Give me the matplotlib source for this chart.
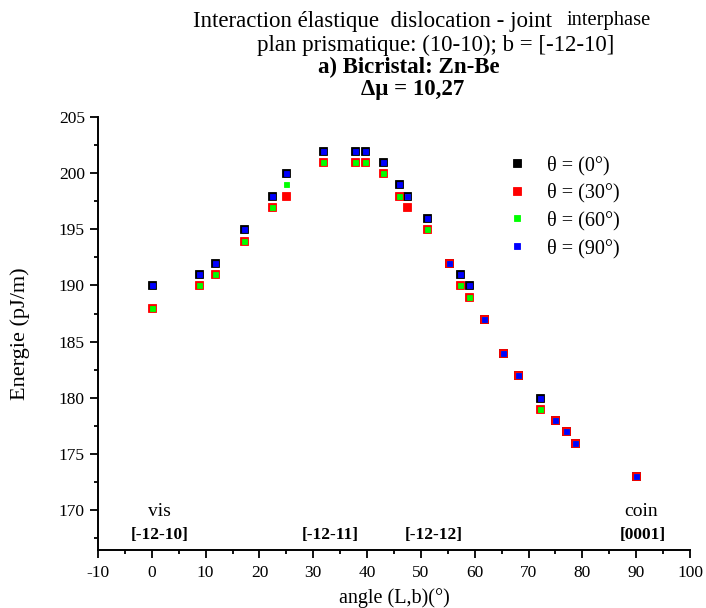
import matplotlib
matplotlib.use("Agg")
import matplotlib.pyplot as plt
from matplotlib.lines import Line2D
from matplotlib.ticker import MultipleLocator

plt.rcParams['font.family'] = ['Liberation Serif', 'DejaVu Serif']
plt.rcParams['axes.unicode_minus'] = False

# Angle (L,b) in degrees
angle = [0, 8.8, 11.7, 17.1, 22.4, 25.0, 31.8, 37.7, 39.6, 42.9, 45.9, 47.4,
         51.1, 55.3, 57.2, 58.9, 61.7, 65.2, 68.0, 72.1, 75.0, 77.0, 78.6, 90]

# Interaction energy (pJ/m) for each theta
e_theta0 = [190, 191, 192, 195, 198, 200, 202, 202, 202, 201, 199, 198,
            196, 192, 191, 190, 187, 184, 182, 180, 178, 177, 176, 173]
e_theta30 = [188, 190, 191, 194, 197, 198, 201, 201, 201, 200, 198, 197,
             195, 192, 190, 189, 187, 184, 182, 179, 178, 177, 176, 173]
e_theta60 = [188, 190, 191, 194, 197, 199, 201, 201, 201, 200, 198, 198,
             195, 192, 190, 189, 187, 184, 182, 179, 178, 177, 176, 173]
e_theta90 = [190, 191, 192, 195, 198, 200, 202, 202, 202, 201, 199, 198,
             196, 192, 191, 190, 187, 184, 182, 180, 178, 177, 176, 173]

series_labels = ['θ = (0°)', 'θ = (30°)', 'θ = (60°)', 'θ = (90°)']

# Crystallographic direction annotations
dir_x = [1.5, 33.2, 52.4, 91.3]
dir_labels = ['[-12-10]', '[-12-11]', '[-12-12]', '[0001]']
orient_x = [1.5, 91.0]
orient_labels = ['vis', 'coin']

fig = plt.figure(figsize=(7.06, 6.08), dpi=100)
ax = fig.add_axes([0.1388, 0.0954, 0.8385, 0.7122])

styles = [
    dict(color='black', ms=6.0),
    dict(color='#ff0000', ms=6.0),
    dict(color='#00ff00', ms=3.6),
    dict(color='#0000ff', ms=3.6),
]
for vals, st, lab in zip([e_theta0, e_theta30, e_theta60, e_theta90], styles, series_labels):
    ax.plot(angle, vals, linestyle='none', marker='s', ms=st['ms'],
            mfc=st['color'], mec=st['color'], mew=0.6, label=lab)

ax.set_xlim(-10, 100)
ax.set_ylim(166.45, 205)
ax.xaxis.set_major_locator(MultipleLocator(10))
ax.xaxis.set_minor_locator(MultipleLocator(5))
ax.yaxis.set_major_locator(MultipleLocator(5))
ax.yaxis.set_minor_locator(MultipleLocator(2.5))
ax.set_yticks([170, 175, 180, 185, 190, 195, 200, 205])

for side in ('top', 'right'):
    ax.spines[side].set_visible(False)
for side in ('left', 'bottom'):
    ax.spines[side].set_linewidth(1.4)

ax.tick_params(which='major', direction='out', length=5.5, width=1.3,
               labelsize=12.5, pad=4)
ax.tick_params(axis='x', which='major', pad=5.5)
ax.tick_params(which='minor', direction='out', length=3, width=1.3)

ax.set_xlabel('angle (L,b)(°)', fontsize=14.5, labelpad=5)
ax.set_ylabel('Energie (pJ/m)', fontsize=16, labelpad=21)

for x, t in zip(orient_x, orient_labels):
    ax.text(x, 169.9, t, ha='center', va='center', fontsize=14)
for x, t in zip(dir_x, dir_labels):
    ax.text(x, 167.8, t, ha='center', va='center', fontsize=12.5,
            fontweight='bold')

handles = [
    Line2D([], [], linestyle='none', marker='s', ms=st['ms'] + 0.2,
           mfc=st['color'], mec=st['color'], mew=0.6)
    for st in styles
]
fig.legend(handles, series_labels, loc='upper left',
           bbox_to_anchor=(0.712, 0.757), frameon=False, fontsize=14.5,
           handlelength=0.6, handletextpad=1.2, labelspacing=0.40,
           borderaxespad=0)

# Title block
fig.text(193 / 706, 1 - 22 / 608, 'Interaction élastique  dislocation - joint',
         ha='left', va='center', fontsize=16.5)
fig.text(567 / 706, 1 - 21 / 608, 'interphase', ha='left', va='center',
         fontsize=14.8)
fig.text(436 / 706, 1 - 45 / 608, 'plan prismatique: (10-10); b = [-12-10]',
         ha='center', va='center', fontsize=16.5)
fig.text(409 / 706, 1 - 67 / 608, 'a) Bicristal: Zn-Be',
         ha='center', va='center', fontsize=16.5, fontweight='bold')
fig.text(413 / 706, 1 - 90 / 608, 'Δμ = 10,27',
         ha='center', va='center', fontsize=16.5, fontweight='bold')

fig.savefig('out.png', dpi=100, facecolor='white')
